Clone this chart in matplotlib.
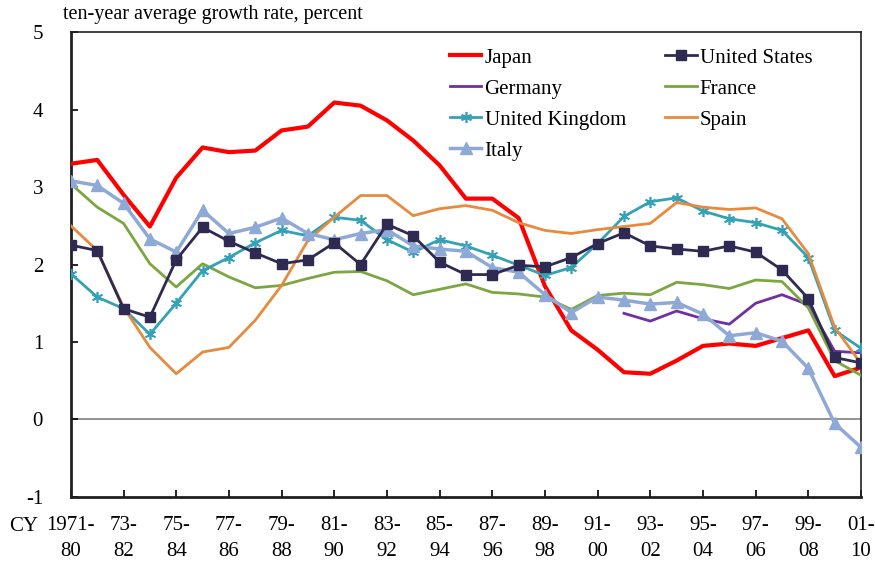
import matplotlib
import matplotlib.pyplot as plt

matplotlib.use('Agg')

plt.rcParams['font.family'] = ['Liberation Serif', 'DejaVu Serif']
plt.rcParams['axes.unicode_minus'] = False

# ten-year windows starting 1971 .. 2001
periods = list(range(31))
tick_pos = list(range(0, 31, 2))
tick_labels = ['1971-\n80', '73-\n82', '75-\n84', '77-\n86', '79-\n88', '81-\n90',
               '83-\n92', '85-\n94', '87-\n96', '89-\n98', '91-\n00', '93-\n02',
               '95-\n04', '97-\n06', '99-\n08', '01-\n10']

japan = [3.30, 3.35, 2.90, 2.49, 3.12, 3.51, 3.45, 3.47, 3.73, 3.78, 4.09,
         4.05, 3.86, 3.60, 3.28, 2.85, 2.85, 2.60, 1.72, 1.15, 0.90, 0.61,
         0.59, 0.76, 0.95, 0.98, 0.95, 1.05, 1.15, 0.56, 0.67]
united_states = [2.25, 2.18, 1.43, 1.32, 2.06, 2.48, 2.30, 2.15, 2.01, 2.06,
                 2.28, 2.00, 2.52, 2.37, 2.03, 1.87, 1.87, 1.99, 1.97, 2.09,
                 2.27, 2.41, 2.24, 2.20, 2.17, 2.24, 2.16, 1.93, 1.56, 0.80,
                 0.73]
germany = [None] * 21 + [1.37, 1.27, 1.40, 1.30, 1.23, 1.50, 1.61, 1.48,
                         0.88, 0.86]
france = [3.04, 2.74, 2.53, 2.01, 1.71, 2.01, 1.84, 1.70, 1.73, 1.82, 1.90,
          1.91, 1.79, 1.61, 1.68, 1.75, 1.64, 1.62, 1.58, 1.42, 1.60, 1.63,
          1.61, 1.77, 1.74, 1.69, 1.80, 1.78, 1.44, 0.76, 0.57]
united_kingdom = [1.88, 1.58, 1.43, 1.10, 1.50, 1.92, 2.09, 2.28, 2.44, 2.37,
                  2.61, 2.57, 2.32, 2.16, 2.32, 2.24, 2.12, 1.99, 1.86, 1.96,
                  2.27, 2.62, 2.81, 2.86, 2.69, 2.59, 2.54, 2.44, 2.09, 1.15,
                  0.92]
spain = [2.50, 2.18, 1.45, 0.93, 0.59, 0.87, 0.93, 1.28, 1.73, 2.31, 2.61,
         2.89, 2.89, 2.63, 2.72, 2.76, 2.70, 2.54, 2.44, 2.40, 2.45, 2.49,
         2.53, 2.80, 2.74, 2.71, 2.73, 2.59, 2.14, 1.19, 0.72]
italy = [3.08, 3.02, 2.79, 2.33, 2.16, 2.70, 2.40, 2.48, 2.60, 2.40, 2.32,
         2.40, 2.45, 2.24, 2.20, 2.17, 1.96, 1.90, 1.61, 1.38, 1.58, 1.54,
         1.49, 1.51, 1.36, 1.08, 1.12, 1.01, 0.66, -0.05, -0.36]

fig = plt.figure(figsize=(8.75, 5.67), dpi=100)
ax = fig.add_axes([0.081, 0.1235, 0.903, 0.820])

ax.axhline(0, color='#808080', lw=1.2, zorder=1)

l_jp, = ax.plot(periods, japan, color='#FF0000', lw=3.0, label='Japan', zorder=3)
l_us, = ax.plot(periods, united_states, color='#2E2A52', lw=2.0, marker='s',
                ms=7, label='United States', zorder=4)
l_de, = ax.plot(periods, germany, color='#7030A0', lw=2.0, label='Germany', zorder=3)
l_fr, = ax.plot(periods, france, color='#7BA640', lw=2.0, label='France', zorder=3)
l_uk, = ax.plot(periods, united_kingdom, color='#33A2B6', lw=2.0, marker=(6, 2, 0),
                ms=8, mew=1.2, label='United Kingdom', zorder=3)
l_es, = ax.plot(periods, spain, color='#E88A3E', lw=2.0, label='Spain', zorder=3)
l_it, = ax.plot(periods, italy, color='#8EA9D6', lw=2.5, marker='^', ms=8,
                label='Italy', zorder=3)

ax.set_xlim(0, 30)
ax.set_ylim(-1, 5)
ax.set_yticks(range(-1, 6))
ax.set_xticks(tick_pos)
ax.set_xticklabels(tick_labels)

ax.tick_params(axis='y', direction='in', length=5, width=1.2, pad=20, labelsize=15)
ax.tick_params(axis='x', direction='in', length=5, width=1.2, pad=14, labelsize=15)
for lbl in ax.get_xticklabels():
    lbl.set_linespacing(1.45)

ax.spines['left'].set_linewidth(2.0)
ax.spines['bottom'].set_linewidth(2.0)
ax.spines['top'].set_linewidth(1.2)
ax.spines['right'].set_linewidth(1.2)
for s in ax.spines.values():
    s.set_color('#202020')

fig.text(0.072, 0.974, 'ten-year average growth rate, percent', fontsize=14.5,
         ha='left', va='center')
fig.text(0.010, 0.072, 'CY', fontsize=15, ha='left', va='center')

handles = [l_jp, l_de, l_uk, l_it, l_us, l_fr, l_es]
ax.legend(handles=handles, ncol=2, loc='upper left', bbox_to_anchor=(0.505, 0.93),
          bbox_transform=fig.transFigure, frameon=False, fontsize=15,
          handlelength=1.5, handletextpad=0.15, columnspacing=1.9,
          labelspacing=0.55, borderaxespad=0)

fig.savefig('out.png', dpi=100)
